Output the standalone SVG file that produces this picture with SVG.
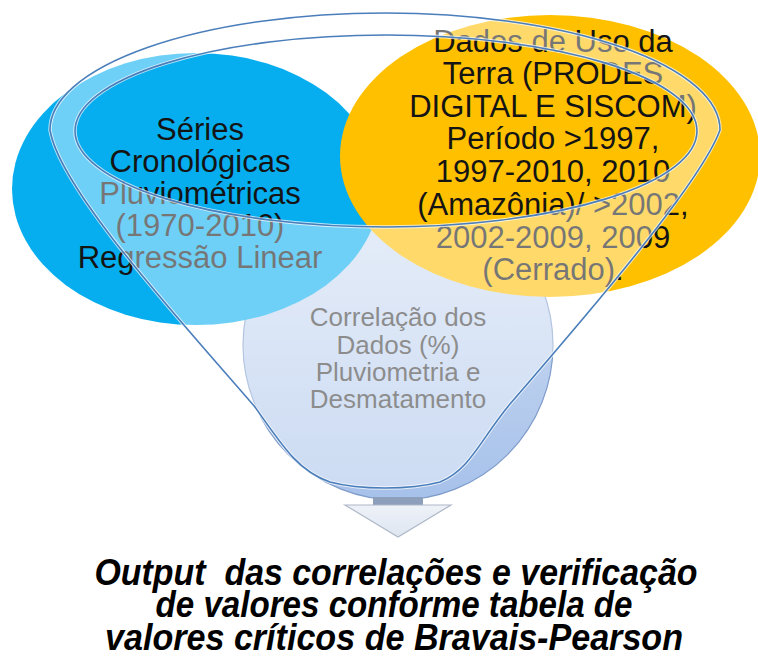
<svg xmlns="http://www.w3.org/2000/svg" width="758" height="664" viewBox="0 0 758 664">
<defs>
<style>
.t{font-family:"Liberation Sans",Arial,sans-serif;fill:#141414;text-anchor:middle}
.big{font-size:31px}
.mid{font-size:26px;fill:#3a3a3a}
.out{font-family:"Liberation Sans",Arial,sans-serif;font-size:36px;font-weight:bold;font-style:italic;fill:#000;text-anchor:middle}
.rim{fill:none;stroke:#4a7ebb;stroke-width:1.6}
</style>
<linearGradient id="gCircle" x1="0" y1="0" x2="0" y2="1">
<stop offset="0" stop-color="#d6e2f4"/>
<stop offset="1" stop-color="#a6c1ea"/>
</linearGradient>
<linearGradient id="gArrow" x1="0" y1="0" x2="0" y2="1">
<stop offset="0" stop-color="#eef2f8"/>
<stop offset="1" stop-color="#dfe6f1"/>
</linearGradient>
</defs>
<rect width="758" height="664" fill="#ffffff"/>

<g id="node-correlacao">
<circle cx="398" cy="345" r="155" fill="url(#gCircle)" stroke="#7f9ccb" stroke-width="1.2"/>
<text class="t mid" x="398" y="326">Correlação dos</text>
<text class="t mid" x="398" y="354">Dados (%)</text>
<text class="t mid" x="398" y="381">Pluviometria e</text>
<text class="t mid" x="398" y="408">Desmatamento</text>
</g>

<g id="node-series">
<ellipse cx="196" cy="189" rx="184" ry="136" fill="#06aeef"/>
<text class="t big" x="200" y="140">Séries</text>
<text class="t big" x="200" y="172">Cronológicas</text>
<text class="t big" x="200" y="204">Pluviométricas</text>
<text class="t big" x="200" y="236">(1970-2010)</text>
<text class="t big" x="200" y="268">Regressão Linear</text>
</g>

<g id="node-dados">
<ellipse cx="550" cy="156" rx="210" ry="141" fill="#ffc000"/>
<text class="t big" x="553" y="52">Dados de Uso da</text>
<text class="t big" x="553" y="84">Terra (PRODES</text>
<text class="t big" x="553" y="117">DIGITAL E SISCOM)</text>
<text class="t big" x="553" y="149">Período &gt;1997,</text>
<text class="t big" x="553" y="182">1997-2010, 2010</text>
<text class="t big" x="553" y="215">(Amazônia)/ &gt;2002,</text>
<text class="t big" x="553" y="248">2002-2009, 2009</text>
<text class="t big" x="553" y="280">(Cerrado).</text>
</g>

<g id="node-funnel">
<path d="M 50 130 A 335 117 0 0 1 720 130 C 702 180, 600 300, 510 404 C 480 440, 470 470, 440 482 C 410 490, 360 490, 330 482 C 300 472, 285 450, 255 407 C 180 320, 60 190, 50 130 Z M 75 131 A 311 96 0 0 0 697 131 A 311 96 0 0 0 75 131 Z" fill="#ffffff" fill-opacity="0.42" fill-rule="evenodd" stroke="#ffffff" stroke-width="3.5" stroke-opacity="0.7"/>
<path class="rim" d="M 50 130 A 335 117 0 0 1 720 130 C 702 180, 600 300, 510 404 C 480 440, 470 470, 440 482 C 410 490, 360 490, 330 482 C 300 472, 285 450, 255 407 C 180 320, 60 190, 50 130 Z"/>
<ellipse class="rim" cx="386" cy="131" rx="311" ry="96"/>
</g>

<g id="connectors">
<rect x="373" y="497" width="50" height="9" fill="#8d9fba"/>
<path d="M 345 505 L 451 505 L 398 537 Z" fill="url(#gArrow)" stroke="#aeb8c8" stroke-width="1.2"/>
</g>

<g id="node-output">
<text class="out" x="396" y="585" xml:space="preserve" textLength="603" lengthAdjust="spacingAndGlyphs">Output  das correlações e verificação</text>
<text class="out" x="394" y="617" textLength="477" lengthAdjust="spacingAndGlyphs">de valores conforme tabela de</text>
<text class="out" x="394" y="650" textLength="578" lengthAdjust="spacingAndGlyphs">valores críticos de Bravais-Pearson</text>
</g>
</svg>
